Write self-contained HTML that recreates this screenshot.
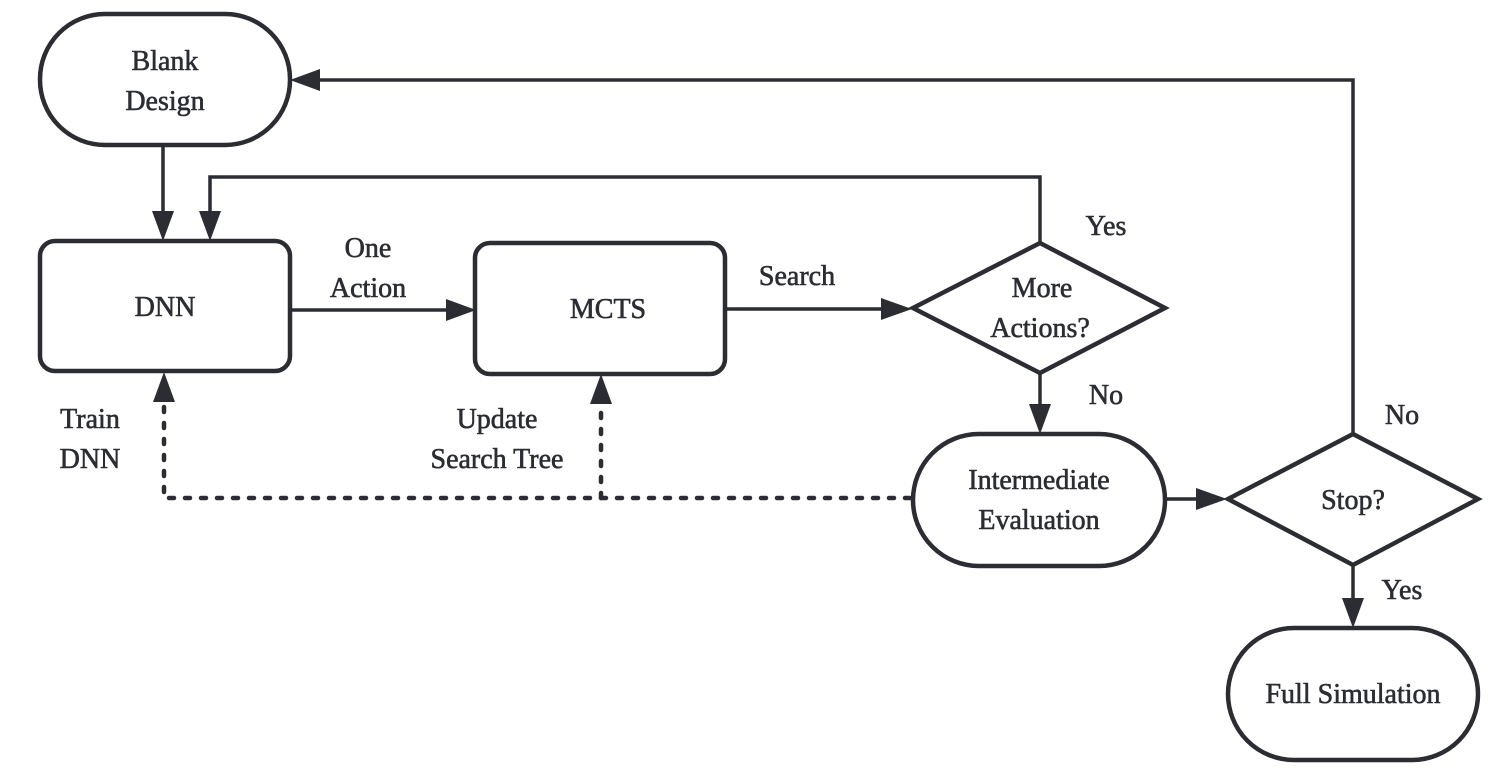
<!DOCTYPE html>
<html><head><meta charset="utf-8"><style>
html,body{margin:0;padding:0;background:#fff;}
svg{display:block;}
text{font-family:"Liberation Serif",serif;font-size:28px;fill:#2b2d33;stroke:#2b2d33;stroke-width:0.6;text-anchor:middle;}
</style></head><body>
<svg width="1505" height="778" viewBox="0 0 1505 778" xmlns="http://www.w3.org/2000/svg">
<g fill="none" stroke="#2b2d33" stroke-width="4.5">
<rect x="40" y="14" width="250" height="131" rx="65"/>
<rect x="40" y="241" width="250" height="130" rx="15"/>
<rect x="475" y="243" width="250" height="131" rx="15"/>
<polygon points="913,308 1040,243 1165,308 1040,373"/>
<rect x="913" y="434" width="252" height="132" rx="66"/>
<polygon points="1228,499 1353,434 1478,499 1353,565"/>
<rect x="1228" y="628" width="250" height="132" rx="66"/>
</g>
<g fill="none" stroke="#2b2d33" stroke-width="3.5">
<line x1="163" y1="145" x2="163" y2="215"/>
<polyline points="1040,243 1040,177 210,177 210,215"/>
<line x1="290" y1="310" x2="450" y2="310"/>
<line x1="725" y1="309" x2="885" y2="309"/>
<line x1="1040" y1="373" x2="1040" y2="408"/>
<line x1="1165" y1="499" x2="1200" y2="499"/>
<polyline points="1353,434 1353,80 315,80"/>
<line x1="1353" y1="565" x2="1353" y2="602"/>
</g>
<g fill="none" stroke="#2b2d33" stroke-width="4.5" stroke-linecap="round" stroke-dasharray="5 11">
<polyline points="910,498 164,498 164,400"/>
<line x1="601" y1="498" x2="601" y2="403"/>
</g>
<g fill="#2b2d33">
<polygon points="152,211 174,211 163,241"/>
<polygon points="199,211 221,211 210,241"/>
<polygon points="446,299 446,321 476,310"/>
<polygon points="881,298 881,320 912,309"/>
<polygon points="1029,404 1051,404 1040,434"/>
<polygon points="1196,488 1196,510 1227,499"/>
<polygon points="320,69 320,91 290,80"/>
<polygon points="1342,598 1364,598 1353,628"/>
<polygon points="153,402 175,402 164,372"/>
<polygon points="590,404 612,404 601,374"/>
</g>
<text x="165" y="70">Blank</text>
<text x="165" y="110">Design</text>
<text x="165" y="316">DNN</text>
<text x="608" y="318">MCTS</text>
<text x="368" y="257">One</text>
<text x="368" y="297">Action</text>
<text x="797" y="285">Search</text>
<text x="1042" y="297">More</text>
<text x="1040" y="337">Actions?</text>
<text x="1106" y="235">Yes</text>
<text x="1106" y="404">No</text>
<text x="1039" y="489">Intermediate</text>
<text x="1039" y="529">Evaluation</text>
<text x="1353" y="509">Stop?</text>
<text x="1402" y="424">No</text>
<text x="1402" y="599">Yes</text>
<text x="1353" y="703">Full Simulation</text>
<text x="90" y="428">Train</text>
<text x="90" y="468">DNN</text>
<text x="497" y="428">Update</text>
<text x="497" y="468">Search Tree</text>
</svg>
</body></html>
